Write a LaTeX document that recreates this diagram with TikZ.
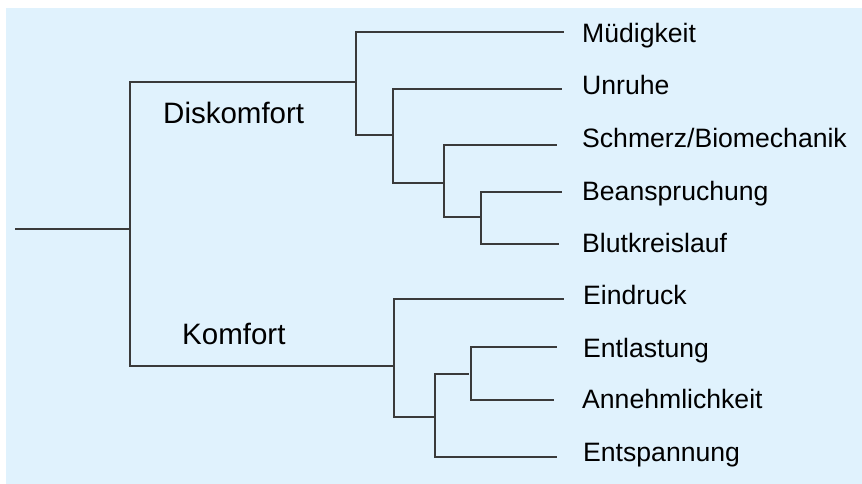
\documentclass[tikz,border=0pt]{standalone}
\usepackage{fontspec}
\setmainfont{Liberation Sans}
\definecolor{panel}{HTML}{E0F2FD}
\definecolor{ink}{HTML}{3A3A3A}
\begin{document}
\begin{tikzpicture}[x=1pt,y=-1pt,
  branch/.style={draw=ink, line width=1.6pt, line cap=rect},
  leaf/.style={anchor=base west, inner sep=0pt, text=black,
    font=\fontsize{26.6}{30}\selectfont},
  group/.style={anchor=base west, inner sep=0pt, text=black,
    font=\fontsize{29.5}{34}\selectfont}]
\useasboundingbox (0,0) rectangle (862,484);
\fill[panel] (6,8) rectangle (862,484);

% junction points of the tree
\coordinate (root) at (16,229);
\coordinate (r)    at (130,229);
\coordinate (rd)   at (130,82);
\coordinate (rk)   at (130,366);
% Diskomfort subtree
\coordinate (d0)   at (356,82);
\coordinate (d0t)  at (356,32);
\coordinate (d0b)  at (356,135);
\coordinate (d1)   at (393,135);
\coordinate (d1t)  at (393,89);
\coordinate (d1b)  at (393,183);
\coordinate (d2)   at (444,183);
\coordinate (d2t)  at (444,145);
\coordinate (d2b)  at (444,217);
\coordinate (d3)   at (481,217);
\coordinate (d3t)  at (481,192);
\coordinate (d3b)  at (481,244);
% Komfort subtree
\coordinate (k0)   at (394,366);
\coordinate (k0t)  at (394,299);
\coordinate (k0b)  at (394,417);
\coordinate (k1)   at (435,417);
\coordinate (k1t)  at (435,374);
\coordinate (k1b)  at (435,457);
\coordinate (k2)   at (468,374);
\coordinate (k2l)  at (471,374);
\coordinate (k2t)  at (471,347);
\coordinate (k2b)  at (471,400);
% free ends of the leaf lines
\coordinate (e1) at (563,32);
\coordinate (e2) at (561,89);
\coordinate (e3) at (556,145);
\coordinate (e4) at (561,192);
\coordinate (e5) at (558,244);
\coordinate (e6) at (563,299);
\coordinate (e7) at (556,347);
\coordinate (e8) at (553,400);
\coordinate (e9) at (556,457);

% tree lines
\draw[branch] (root) -- (r);
\draw[branch] (rd) -- (rk);
\draw[branch] (rd) -- (d0);
\draw[branch] (rk) -- (k0);

\draw[branch] (d0t) -- (d0b);
\draw[branch] (d0t) -- (e1);
\draw[branch] (d0b) -- (d1);
\draw[branch] (d1t) -- (d1b);
\draw[branch] (d1t) -- (e2);
\draw[branch] (d1b) -- (d2);
\draw[branch] (d2t) -- (d2b);
\draw[branch] (d2t) -- (e3);
\draw[branch] (d2b) -- (d3);
\draw[branch] (d3t) -- (d3b);
\draw[branch] (d3t) -- (e4);
\draw[branch] (d3b) -- (e5);

\draw[branch] (k0t) -- (k0b);
\draw[branch] (k0t) -- (e6);
\draw[branch] (k0b) -- (k1);
\draw[branch] (k1t) -- (k1b);
\draw[branch] (k1t) -- (k2);
\draw[branch] (k2t) -- (k2b);
\draw[branch] (k2t) -- (e7);
\draw[branch] (k2b) -- (e8);
\draw[branch] (k1b) -- (e9);

% group labels
\node[group] (gd) at (163,124) {Diskomfort};
\node[group] (gk) at (182,344) {Komfort};

% leaf labels
\node[leaf] (l1) at (582,43)  {Müdigkeit};
\node[leaf] (l2) at (582,95)  {Unruhe};
\node[leaf] (l3) at (582,147) {Schmerz/Biomechanik};
\node[leaf] (l4) at (582,200) {Beanspruchung};
\node[leaf] (l5) at (582,252) {Blutkreislauf};
\node[leaf] (l6) at (583,304) {Eindruck};
\node[leaf] (l7) at (583,357) {Entlastung};
\node[leaf] (l8) at (582,408) {Annehmlichkeit};
\node[leaf] (l9) at (583,461) {Entspannung};
\end{tikzpicture}
\end{document}
